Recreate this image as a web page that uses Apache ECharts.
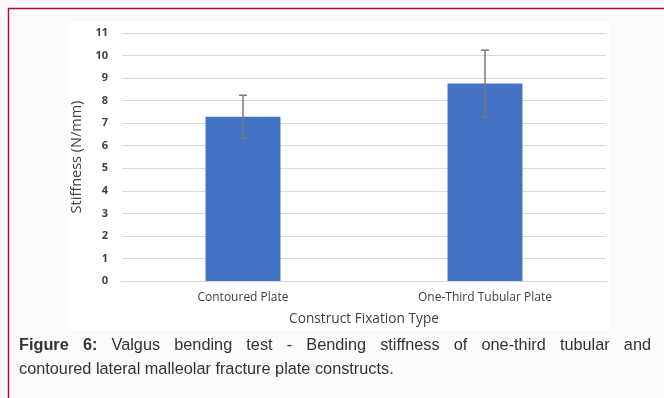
<!DOCTYPE html>
<html><head><meta charset="utf-8">
<script src="https://cdn.jsdelivr.net/npm/echarts@6/dist/echarts.min.js"></script>
<style>html,body{margin:0;padding:0;background:#fcfafa;}#c{width:664px;height:398px;}</style>
</head><body><div id="c"></div>
<script>
const categories = ['Contoured Plate', 'One-Third Tubular Plate'];
const stiffness = [7.28, 8.76];
const stdDev = [0.96, 1.48];
const yTicks = {min: 0, max: 11, interval: 1};
const captionBold = 'Figure 6:';
const captionLine1 = 'Valgus bending test - Bending stiffness of one-third tubular and';
const captionLine2 = 'contoured lateral malleolar fracture plate constructs.';

const chart = echarts.init(document.getElementById('c'), null, {renderer: 'canvas'});
const capFont = '16.3px "Liberation Sans", Arial, sans-serif';
const capFontB = 'bold 16.3px "Liberation Sans", Arial, sans-serif';
const ctx = document.createElement('canvas').getContext('2d');
function w(t, f){ ctx.font = f; return ctx.measureText(t).width; }

// justified first line
const words = captionBold.split(' ').concat(captionLine1.split(' '));
const fonts = words.map((_, i) => i < 2 ? capFontB : capFont);
const x0 = 19, x1 = 651;
const total = words.reduce((s, t, i) => s + w(t, fonts[i]), 0);
const gap = (x1 - x0 - total) / (words.length - 1);
const capEls = [];
let cx = x0;
words.forEach((t, i) => {
  capEls.push({type: 'text', left: cx, top: 338, style: {text: t, font: fonts[i], fill: '#333'}, z: 10});
  cx += w(t, fonts[i]) + gap;
});
capEls.push({type: 'text', left: x0, top: 362, style: {text: captionLine2, font: capFont, fill: '#333'}, z: 10});

const option = {
  animation: false,
  backgroundColor: '#fcfafa',
  graphic: [
    {type: 'rect', shape: {x: 68, y: 22, width: 543, height: 308}, style: {fill: '#ffffff'}, z: -10, silent: true},
    {type: 'rect', shape: {x: 8.5, y: 8.5, width: 700, height: 420}, style: {fill: 'none', stroke: '#b0103a', lineWidth: 1.5}, z: 10, silent: true}
  ].concat(capEls),
  grid: {left: 122, right: 58, top: 33, bottom: 117},
  xAxis: {
    type: 'category', data: categories,
    axisLine: {lineStyle: {color: '#d9d9d9'}}, axisTick: {show: false},
    axisLabel: {color: '#404040', fontSize: 12, fontFamily: '"Open Sans", sans-serif', margin: 11},
    name: 'Construct Fixation Type', nameLocation: 'middle', nameGap: 31,
    nameTextStyle: {color: '#404040', fontSize: 13.7, fontFamily: '"Open Sans", sans-serif'}
  },
  yAxis: {
    type: 'value', min: yTicks.min, max: yTicks.max, interval: yTicks.interval,
    axisLine: {show: false}, axisTick: {show: false},
    splitLine: {lineStyle: {color: '#d9d9d9'}},
    axisLabel: {color: '#404040', fontSize: 11, fontWeight: 'bold', fontFamily: '"Open Sans", sans-serif', margin: 14},
    name: 'Stiffness (N/mm)', nameLocation: 'middle', nameGap: 33,
    nameTextStyle: {color: '#404040', fontSize: 14.5, fontFamily: '"Open Sans", sans-serif'}
  },
  series: [
    {type: 'bar', data: stiffness, barWidth: '31%', itemStyle: {color: '#4472c4'}},
    {type: 'custom', z: 5,
      data: stiffness.map((v, i) => [i, v - stdDev[i], v + stdDev[i]]),
      renderItem: function(params, api){
        const lo = api.coord([api.value(0), api.value(1)]);
        const hi = api.coord([api.value(0), api.value(2)]);
        const hw = 4;
        const st = {stroke: '#7a7a7a', lineWidth: 1.5};
        return {type: 'group', children: [
          {type: 'line', shape: {x1: hi[0], y1: hi[1], x2: lo[0], y2: lo[1]}, style: st},
          {type: 'line', shape: {x1: hi[0]-hw, y1: hi[1], x2: hi[0]+hw, y2: hi[1]}, style: st},
          {type: 'line', shape: {x1: lo[0]-hw, y1: lo[1], x2: lo[0]+hw, y2: lo[1]}, style: st}
        ]};
      }
    }
  ]
};
chart.setOption(option);
</script></body></html>
